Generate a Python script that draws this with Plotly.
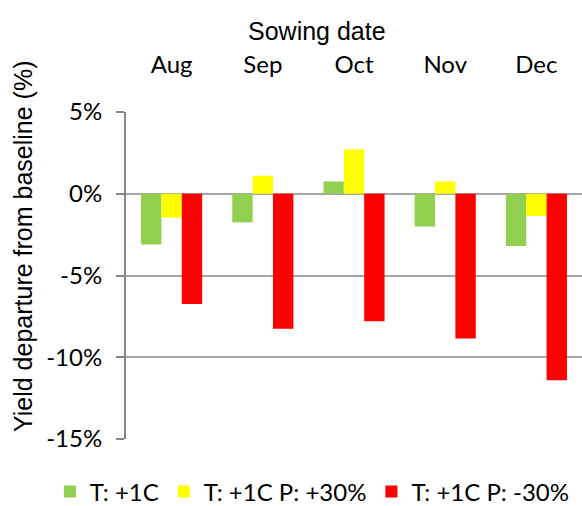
import plotly.graph_objects as go

months = ["Aug", "Sep", "Oct", "Nov", "Dec"]
t_plus1 = [-3.1, -1.75, 0.75, -2.0, -3.2]
t_plus1_p_plus30 = [-1.45, 1.1, 2.7, 0.75, -1.35]
t_plus1_p_minus30 = [-6.75, -8.25, -7.8, -8.85, -11.4]
series_names = ["T: +1C", "T: +1C P: +30%", "T: +1C P: -30%"]
series_colors = ["#92D050", "#FFFF00", "#FF0000"]
y_tick_vals = [-15, -10, -5, 0, 5]
y_tick_text = ["-15%", "-10%", "-5%", "0%", "5%"]
boundary_ticks = [-0.5, 0.5, 1.5, 2.5, 3.5, 4.5]

fig = go.Figure()
for name, vals, col in zip(series_names, [t_plus1, t_plus1_p_plus30, t_plus1_p_minus30], series_colors):
    fig.add_trace(go.Bar(x=months, y=vals, name=name, marker=dict(color=col, line=dict(width=0))))

axis_gray = "#868686"
fig.update_layout(
    width=582, height=506,
    paper_bgcolor="white", plot_bgcolor="white",
    margin=dict(l=126, r=0, t=112, b=67, autoexpand=False),
    barmode="group", bargap=0.33, bargroupgap=0,
    font=dict(family="Lato, Liberation Sans, sans-serif", color="black"),
    xaxis=dict(
        type="category", side="top", range=[-0.5, 4.5], automargin=False,
        showgrid=False, showline=False, ticks="", zeroline=False,
        tickfont=dict(family="Lato", size=24, color="black"),
        ticklabelstandoff=33,
    ),
    xaxis2=dict(
        overlaying="x", anchor="free", position=0.75, side="bottom",
        type="linear", range=[-0.5, 4.5], tickvals=boundary_ticks,
        ticks="outside", ticklen=8, tickwidth=2, tickcolor=axis_gray,
        showticklabels=False, showline=True, linecolor=axis_gray, linewidth=2,
        showgrid=False, zeroline=False, automargin=False,
    ),
    yaxis=dict(
        range=[-15, 5], tickvals=y_tick_vals, ticktext=y_tick_text, automargin=False,
        showgrid=True, gridcolor="#A6A6A6", gridwidth=1.5,
        showline=True, linecolor=axis_gray, linewidth=2,
        ticks="outside", ticklen=8, tickwidth=2, tickcolor=axis_gray,
        zeroline=False, ticklabelstandoff=9,
        tickfont=dict(family="Lato", size=24, color="black"),
    ),
    legend=dict(
        orientation="h",
        x=-0.167, xanchor="left", y=-0.162, yanchor="middle",
        font=dict(family="Lato", size=24, color="black"),
        bgcolor="rgba(0,0,0,0)",
    ),
    annotations=[
        dict(
            text="Yield departure from baseline (%)", textangle=-90,
            xref="paper", yref="paper", x=-0.226, y=0.59,
            xanchor="center", yanchor="middle", showarrow=False,
            font=dict(family="Liberation Sans, Arial", size=25, color="black"),
        ),
        dict(
            text="Sowing date",
            xref="paper", yref="paper", x=0.418, y=1.248,
            xanchor="center", yanchor="middle", showarrow=False,
            font=dict(family="Liberation Sans, Arial", size=25, color="black"),
        ),
    ],
)

fig.write_html(
    "out.html",
    config={"displayModeBar": False},
    post_script="document.body.style.margin='0';document.body.style.overflow='hidden';",
)
